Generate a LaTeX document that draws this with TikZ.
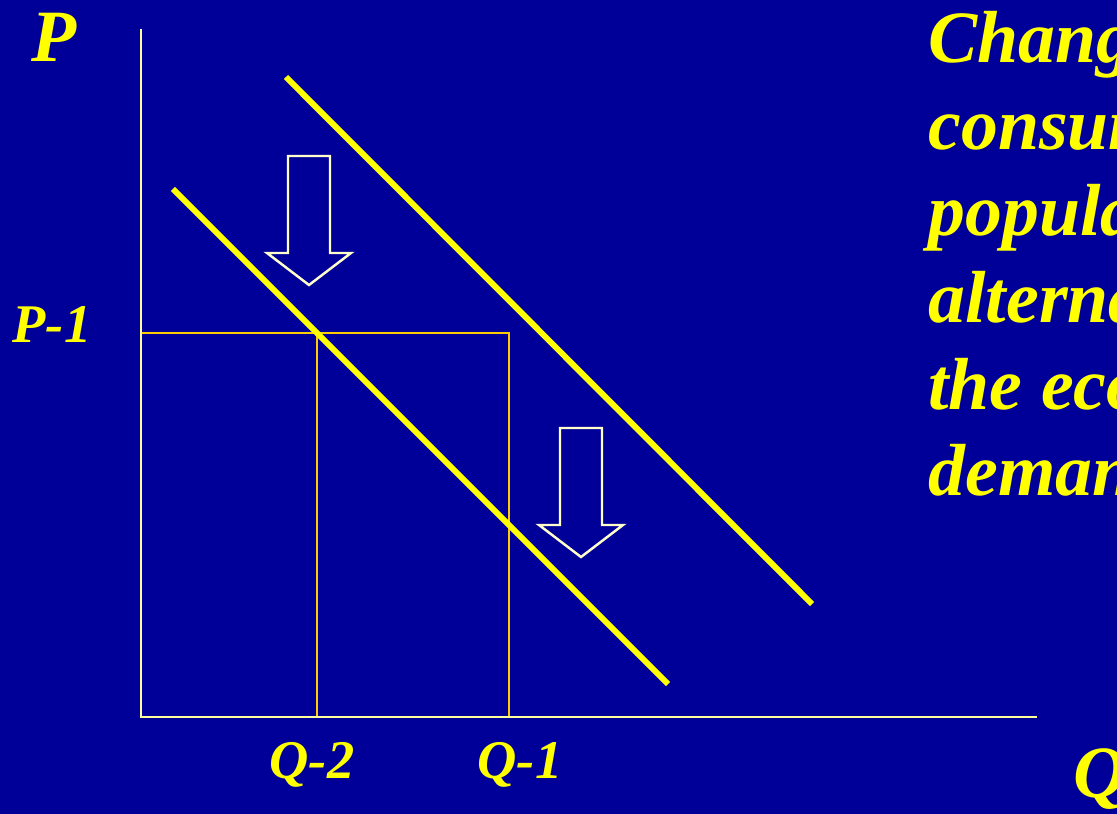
\documentclass[tikz,border=0pt]{standalone}
\usepackage{fontspec}
\setmainfont{Liberation Serif}
\usepackage{tikz}
\definecolor{SlideBlue}{HTML}{000099}
\definecolor{CurveYellow}{HTML}{FFFF00}
\definecolor{AxisCream}{HTML}{FFFF99}
\definecolor{GuideGold}{HTML}{FFCC00}
\definecolor{ArrowCream}{HTML}{FFFFCC}

\begin{document}
\begin{tikzpicture}[x=0.02cm,y=-0.02cm,
  axis/.style={AxisCream,line width=1.6pt},
  demand/.style={CurveYellow,line width=3.4pt},
  guide/.style={GuideGold,line width=1.1pt},
  downarrow/.style={ArrowCream,line width=1.4pt,line join=miter},
  big/.style={text=CurveYellow,font=\fontsize{42}{49.3}\selectfont\bfseries\itshape,inner sep=0pt},
  small/.style={text=CurveYellow,font=\fontsize{31}{36}\selectfont\bfseries\itshape,inner sep=0pt}
]
  \fill[SlideBlue] (0,0) rectangle (1117,814);
  \useasboundingbox (0,0) rectangle (1117,814);
  \clip (0,0) rectangle (1117,814);

  % axes and curves
  \coordinate (O) at (141,717);
  \coordinate (ytop) at (141,29);
  \coordinate (xend) at (1037,717);
  \coordinate (d1a) at (286,77);
  \coordinate (d1b) at (812,604);
  \coordinate (d2a) at (173,189);
  \coordinate (d2b) at (668,684);
  \coordinate (p1) at (141,333);
  \coordinate (e2) at (317,333);
  \coordinate (q2) at (317,717);
  \coordinate (e1) at (509,333);
  \coordinate (q1) at (509,717);

  \draw[guide] (p1) -- (e1) -- (q1);
  \draw[guide] (e2) -- (q2);
  \draw[axis] (ytop) -- (O) -- (xend);
  \draw[demand] (d1a) -- (d1b);
  \draw[demand] (d2a) -- (d2b);

  % shift arrows
  \foreach \ax/\ay in {309/156, 581/428}
    \draw[downarrow] (\ax-21,\ay) -- (\ax+21,\ay) -- (\ax+21,\ay+97) -- (\ax+42,\ay+97)
      -- (\ax,\ay+129) -- (\ax-42,\ay+97) -- (\ax-21,\ay+97) -- cycle;

  % labels
  \node[big,anchor=base] (plabel) at (54,62) {P};
  \node[big,anchor=base west] (qlabel) at (1073,797) {Q};
  \node[small,anchor=base] (p1label) at (52,343) {P-1};
  \node[small,anchor=base] (q2label) at (312,778) {Q-2};
  \node[small,anchor=base] (q1label) at (520,778) {Q-1};
  \node[big,anchor=north west,align=left] (note) at (928,11)
    {Changes in\\consumer\\population\\alternatives\\the economy\\demand};
\end{tikzpicture}
\end{document}
